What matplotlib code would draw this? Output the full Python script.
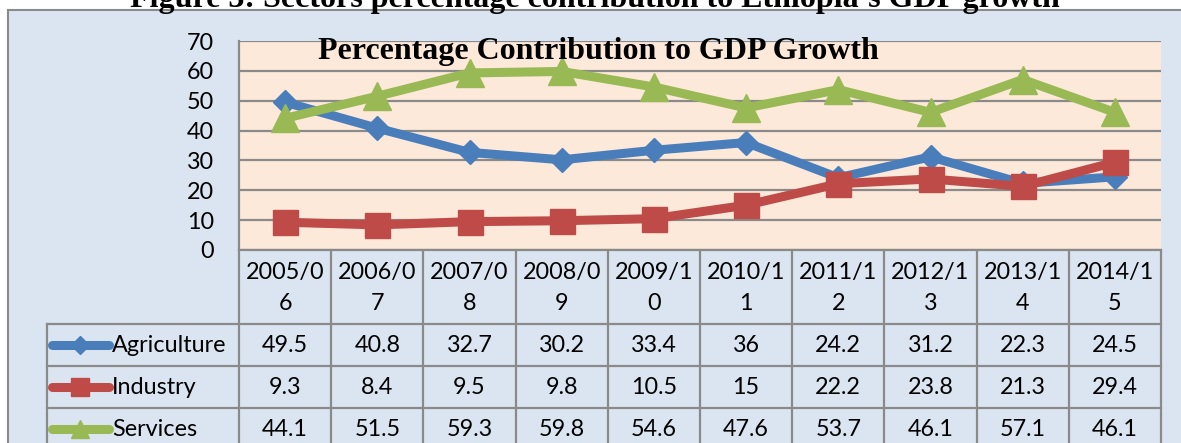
import matplotlib
matplotlib.use("Agg")
import matplotlib.pyplot as plt
import matplotlib.transforms as mtransforms
from matplotlib.patches import Rectangle
from matplotlib.lines import Line2D

years = ["2005/06", "2006/07", "2007/08", "2008/09", "2009/10",
         "2010/11", "2011/12", "2012/13", "2013/14", "2014/15"]
agriculture = [49.5, 40.8, 32.7, 30.2, 33.4, 36, 24.2, 31.2, 22.3, 24.5]
industry = [9.3, 8.4, 9.5, 9.8, 10.5, 15, 22.2, 23.8, 21.3, 29.4]
services = [44.1, 51.5, 59.3, 59.8, 54.6, 47.6, 53.7, 46.1, 57.1, 46.1]
sector_names = ["Agriculture", "Industry", "Services"]

W, H = 1181, 443
BLUE, RED, GREEN = "#4a7ebb", "#be4b48", "#98b954"
GREY = "#8a8a8a"
FONT = ["Lato", "DejaVu Sans"]
SERIF = ["Liberation Serif", "DejaVu Serif"]
FS = 16.8

plt.rcParams["font.family"] = FONT

fig = plt.figure(figsize=(W / 100, H / 100), dpi=100)
fig.patch.set_facecolor("white")

# whole-figure axes in pixel units for frame + table
bg = fig.add_axes([0, 0, 1, 1], zorder=0)
bg.set_xlim(0, W)
bg.set_ylim(H, 0)
bg.axis("off")
bg.add_patch(Rectangle((8, 10), W, H, fc="#dbe5f1", ec=GREY, lw=1.5))

# plot area
px_l, px_r, px_t, px_b = 239, 1161, 41, 250
ax = fig.add_axes([px_l / W, 1 - px_b / H, (px_r - px_l) / W, (px_b - px_t) / H], zorder=2)
ax.set_facecolor("#fde9d9")
ax.set_xlim(-0.5, len(years) - 0.5)
ax.set_ylim(0, 70)
ax.set_yticks(range(0, 80, 10))
ax.set_xticks([])
ax.yaxis.grid(True, color=GREY, lw=1.6)
ax.set_axisbelow(True)
ax.tick_params(axis="y", length=0, pad=18, labelsize=FS)
for s in ["top", "right"]:
    ax.spines[s].set_visible(False)
for s in ["left", "bottom"]:
    ax.spines[s].set_color(GREY)
    ax.spines[s].set_linewidth(1.6)

x = list(range(len(years)))
series = [agriculture, industry, services]
colors = [BLUE, RED, GREEN]
markers = ["D", "s", "^"]
msizes = [12.5, 18, 20]
for vals, c, m, ms in zip(series, colors, markers, msizes):
    ax.plot(x, vals, color=c, lw=6.5, marker=m, ms=ms, mec=c, mfc=c,
            solid_joinstyle="round", clip_on=False, zorder=3)

fig.text(318 / W, 1 - 59 / H, "Percentage Contribution to GDP Growth",
         family=SERIF, fontweight="bold", fontsize=23, zorder=5)

fig.text(595 / W, 1 - 6.5 / H,
         "Figure 3: Sectors percentage contribution to Ethiopia\u2019s GDP growth",
         ha="center", va="baseline", family=SERIF, fontweight="bold", fontsize=23)

# data table under the plot, columns follow the plot's x scale
tr = mtransforms.blended_transform_factory(ax.transData, bg.transData)
row_top = [324, 366, 408]
row_h = 42
for i in range(len(years) + 1):
    bg.add_line(Line2D([i - 0.5, i - 0.5], [px_b, H], transform=tr, color=GREY, lw=1.6))
for yy in row_top:
    bg.plot([47, px_r], [yy, yy], color=GREY, lw=1.6)
bg.plot([47, 47], [row_top[0], H], color=GREY, lw=1.6)

for i, yr in enumerate(years):
    head, tail = yr[:6], yr[6:]
    bg.text(i, 272, head, transform=tr, ha="center", va="center", fontsize=FS)
    bg.text(i, 303, tail, transform=tr, ha="center", va="center", fontsize=FS)

for r, (name, vals, c, m) in enumerate(zip(sector_names, series, colors, markers)):
    yc = row_top[r] + row_h / 2
    for i, v in enumerate(vals):
        bg.text(i, yc, f"{v:g}", transform=tr, ha="center", va="center", fontsize=FS)
    bg.plot([52, 109], [yc, yc], color=c, lw=6.5, solid_capstyle="round")
    bg.plot([80], [yc], marker=m, color=c, ms=[9, 13, 13][r], mec=c)
    bg.text(112, yc, name, ha="left", va="center", fontsize=FS)

fig.savefig("out.png", dpi=100)
